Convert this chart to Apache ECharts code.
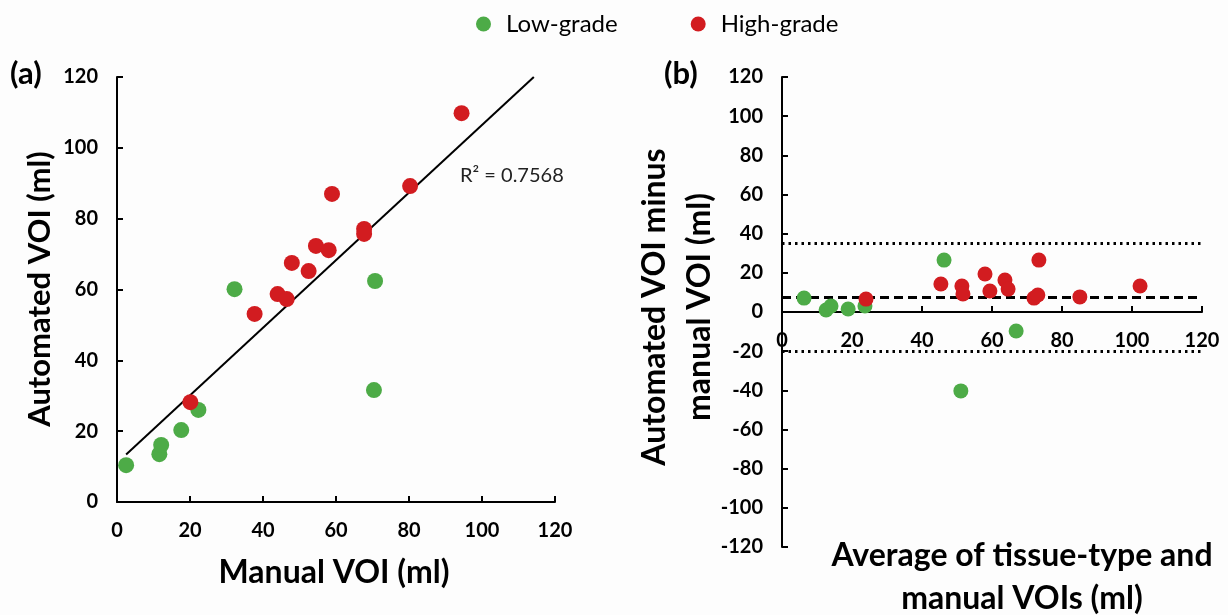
<!DOCTYPE html>
<html>
<head>
<meta charset="utf-8">
<script src="https://cdn.jsdelivr.net/npm/echarts@6/dist/echarts.min.js"></script>
<style>
  html, body { margin: 0; padding: 0; background: #fdfdfd; }
  #main { width: 1228px; height: 615px; }
</style>
</head>
<body>
<div id="main"></div>
<script>
// (a) manual vs automated VOI
const lowManual = [2.5, 11.6, 12.1, 17.6, 22.3, 32.2, 70.7, 70.4]
const lowAuto = [10.4, 13.5, 16.1, 20.3, 26.0, 60.1, 62.4, 31.6]
const highManual = [20.1, 37.7, 44.0, 46.5, 47.9, 52.5, 54.5, 58.0, 58.9, 67.7, 67.7, 80.3, 94.4]
const highAuto = [28.2, 53.1, 58.7, 57.3, 67.5, 65.2, 72.3, 71.1, 87.0, 77.1, 75.7, 89.2, 109.8]
const trendX = [2.5, 114.2]
const trendY = [13.4, 120]
const rSquared = "0.7568"

// (b) Bland-Altman
const lowAvg = [6.3, 12.6, 14.0, 18.9, 23.7, 46.3, 66.9, 51.1]
const lowDiff = [7.1, 1.0, 3.1, 1.5, 3.1, 26.5, -9.7, -40.3]
const highAvg = [24.0, 45.4, 51.4, 51.7, 58.0, 59.4, 63.7, 64.6, 72.0, 73.1, 73.4, 85.1, 102.3]
const highDiff = [6.6, 14.3, 13.3, 9.2, 19.4, 10.7, 16.3, 11.7, 7.1, 8.7, 26.5, 7.7, 13.3]
const meanDiff = 7.5
const upperLimit = 35
const lowerLimit = -20

const green = "#4dab47"
const red = "#d21c20"
const font = "Lato"

const zip = (xs, ys) => xs.map((x, i) => [x, ys[i]])

// shared axis look
function axis(min, max) {
    return {
        min, max, interval: 20,
        axisLine: { onZero: false, lineStyle: { color: "#000", width: 2 } },
        axisTick: { inside: true, length: 6, lineStyle: { color: "#000", width: 2 } },
        axisLabel: { margin: 19, color: "#000", fontFamily: font, fontWeight: "bold", fontSize: 20 },
        splitLine: { show: false },
    }
}

const chart = echarts.init(document.getElementById("main"))

// grid (b): 470px tall for -120..120, so the zero line sits 235px above the bottom
const gridB = { left: 782, top: 77, width: 420, height: 470 }

const option = {
    backgroundColor: "#fdfdfd",
    animation: false,
    legend: {
        left: 471,
        top: 7,
        itemWidth: 15,
        itemHeight: 15,
        itemGap: 73,
        icon: "circle",
        data: ["Low-grade", "High-grade"],
        textStyle: { fontFamily: font, fontSize: 24, color: "#000", padding: [0, 0, 0, 10] },
    },
    grid: [
        { left: 117, top: 77, width: 438, height: 425 },
        gridB,
    ],
    xAxis: [
        Object.assign(axis(0, 120), { gridIndex: 0 }),
        Object.assign(axis(0, 120), { gridIndex: 1, position: "bottom", offset: -gridB.height / 2 }),
    ],
    yAxis: [
        Object.assign(axis(0, 120), { gridIndex: 0 }),
        Object.assign(axis(-120, 120), { gridIndex: 1 }),
    ],
    series: [
        {
            type: "line",
            xAxisIndex: 0, yAxisIndex: 0,
            data: zip(trendX, trendY),
            symbol: "none",
            lineStyle: { color: "#000", width: 2 },
            z: 1,
        },
        {
            name: "Low-grade", type: "scatter",
            xAxisIndex: 0, yAxisIndex: 0,
            data: zip(lowManual, lowAuto),
            symbolSize: 16,
            itemStyle: { color: green, opacity: 1 },
            z: 3,
        },
        {
            name: "High-grade", type: "scatter",
            xAxisIndex: 0, yAxisIndex: 0,
            data: zip(highManual, highAuto),
            symbolSize: 16,
            itemStyle: { color: red, opacity: 1 },
            z: 3,
        },
        {
            name: "Low-grade", type: "scatter",
            xAxisIndex: 1, yAxisIndex: 1,
            data: zip(lowAvg, lowDiff),
            symbolSize: 15,
            itemStyle: { color: green, opacity: 1 },
            z: 3,
        },
        {
            name: "High-grade", type: "scatter",
            xAxisIndex: 1, yAxisIndex: 1,
            data: zip(highAvg, highDiff),
            symbolSize: 15,
            itemStyle: { color: red, opacity: 1 },
            z: 3,
            markLine: {
                silent: true,
                symbol: "none",
                label: { show: false },
                z: 1,
                data: [
                    { yAxis: meanDiff, lineStyle: { color: "#000", width: 3, type: [9, 5] } },
                    { yAxis: upperLimit, lineStyle: { color: "#000", width: 3, type: [2.5, 4] } },
                    { yAxis: lowerLimit, lineStyle: { color: "#000", width: 3, type: [2.5, 4] } },
                ],
            },
        },
    ],
    graphic: {
        elements: [
            {
                type: "text", left: 10, top: 58,
                style: { text: "(a)", font: `bold 31px ${font}`, fill: "#000" },
            },
            {
                type: "text", left: 664, top: 58,
                style: { text: "(b)", font: `bold 31px ${font}`, fill: "#000" },
            },
            {
                type: "text", x: 40, y: 289, rotation: Math.PI / 2,
                style: {
                    text: "Automated VOI (ml)", font: `bold 31px ${font}`, fill: "#000",
                    align: "center", verticalAlign: "middle",
                },
            },
            {
                type: "text", x: 334, y: 573,
                style: {
                    text: "Manual VOI (ml)", font: `bold 32px ${font}`, fill: "#000",
                    align: "center", verticalAlign: "middle",
                },
            },
            {
                type: "text", x: 460, y: 176,
                style: {
                    text: "R² = " + rSquared, font: `20px ${font}`, fill: "#222",
                    align: "left", verticalAlign: "middle",
                },
            },
            {
                type: "text", x: 677, y: 307, rotation: Math.PI / 2,
                style: {
                    text: "Automated VOI minus\nmanual VOI (ml)", font: `bold 32px ${font}`, fill: "#000",
                    align: "center", verticalAlign: "middle", lineHeight: 45,
                },
            },
            {
                type: "text", x: 1022, y: 577,
                style: {
                    text: "Average of tissue-type and\nmanual VOIs (ml)", font: `bold 32px ${font}`, fill: "#000",
                    align: "center", verticalAlign: "middle", lineHeight: 43,
                },
            },
        ],
    },
}

chart.setOption(option)
</script>
</body>
</html>
